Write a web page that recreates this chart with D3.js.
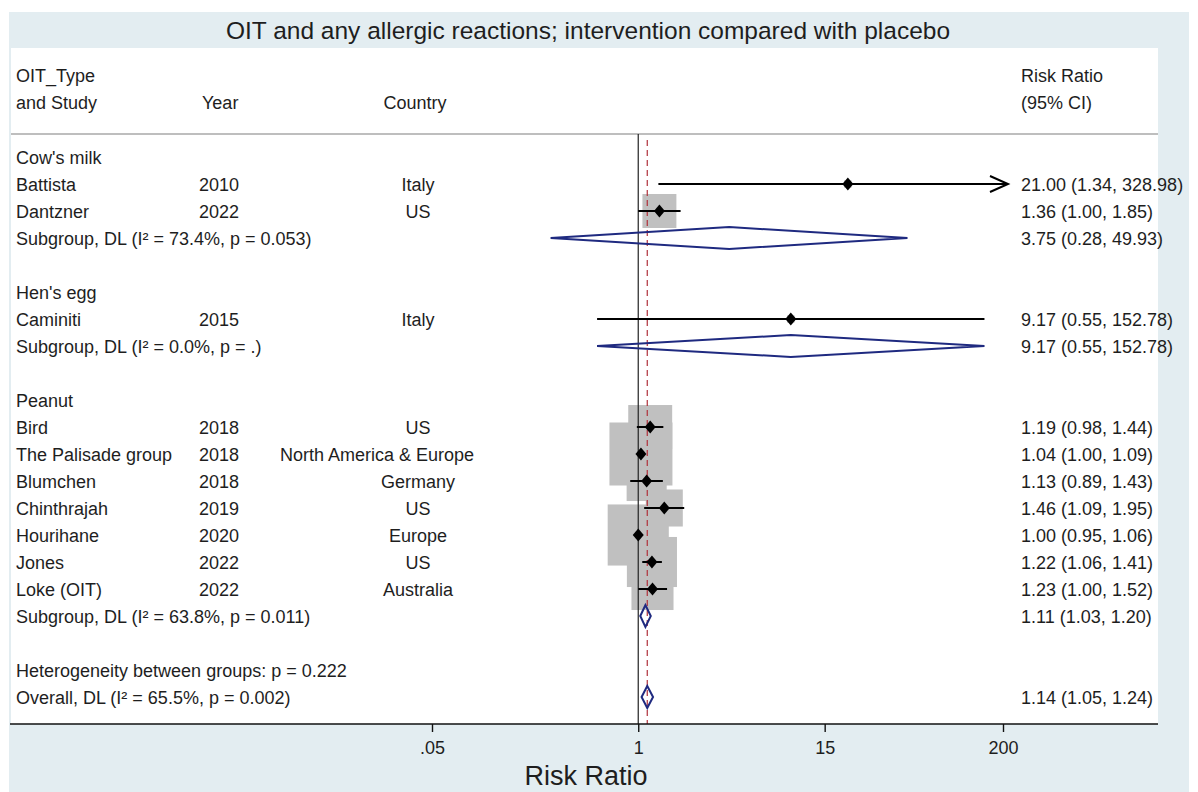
<!DOCTYPE html>
<html>
<head>
<meta charset="utf-8">
<script src="https://cdn.jsdelivr.net/npm/d3@7"></script>
<style>
  html, body { margin: 0; padding: 0; background: #ffffff; }
  svg { display: block; font-family: "Liberation Sans", Arial, Helvetica, sans-serif; }
</style>
</head>
<body>
<svg id="chart" width="1198" height="792"></svg>
<script>
// ---- data -------------------------------------------------------------
const title = "OIT and any allergic reactions; intervention compared with placebo";

const groups = ["Cow's milk", "Hen's egg", "Peanut"];

const studies   = ["Battista", "Dantzner", "Caminiti", "Bird", "The Palisade group",
                   "Blumchen", "Chinthrajah", "Hourihane", "Jones", "Loke (OIT)"];
const studyGroup = [0, 0, 1, 2, 2, 2, 2, 2, 2, 2];
const years     = [2010, 2022, 2015, 2018, 2018, 2018, 2019, 2020, 2022, 2022];
const countries = ["Italy", "US", "Italy", "US", "North America & Europe",
                   "Germany", "US", "Europe", "US", "Australia"];
const rr        = [21.00, 1.36, 9.17, 1.19, 1.04, 1.13, 1.46, 1.00, 1.22, 1.23];
const rrLow     = [1.34, 1.00, 0.55, 0.98, 1.00, 0.89, 1.09, 0.95, 1.06, 1.00];
const rrHigh    = [328.98, 1.85, 152.78, 1.44, 1.09, 1.43, 1.95, 1.06, 1.41, 1.52];
const weights   = [0.3, 6.4, 0.3, 10.7, 22.0, 8.9, 7.6, 20.7, 13.9, 9.8];   // % weight

const subRR    = [3.75, 9.17, 1.11];
const subLow   = [0.28, 0.55, 1.03];
const subHigh  = [49.93, 152.78, 1.20];
const subI2    = ["73.4", "0.0", "63.8"];
const subP     = ["0.053", ".", "0.011"];

const hetP = "0.222";
const overallRR = 1.14, overallLow = 1.05, overallHigh = 1.24;
const overallI2 = "65.5", overallP = "0.002";

const tickValues = [0.05, 1, 15, 200];
const tickLabels = [".05", "1", "15", "200"];

// ---- layout -----------------------------------------------------------
const W = 1198, H = 792;
const bg = "#e3edf1";
const navy = "#1f2a80";
const ink = "#1e1e1e";
const fs = 18;

const colStudy = 16, colYear = 199, colCountry = 418, colCountryStart = 280, colEffect = 1021;
const panel = { x0: 11, x1: 1158, y0: 48, y1: 724 };
const headerLine = 134;

// rows: group header, studies, subgroup, blank ... heterogeneity, overall
const rows = [];
groups.forEach((g, gi) => {
  rows.push({ type: "group", label: g });
  studies.forEach((s, i) => { if (studyGroup[i] === gi) rows.push({ type: "study", i }); });
  rows.push({ type: "sub", gi });
  rows.push({ type: "blank" });
});
rows.push({ type: "het" });
rows.push({ type: "overall" });

const y = d3.scalePoint().domain(d3.range(rows.length)).range([157, 697]);
const x = d3.scaleLog().domain([0.05, 200]).range([432, 1003]);
const box = d3.scaleSqrt().domain([0, 22]).range([0, 63]);
const f2 = d3.format(".2f");

const svg = d3.select("#chart");

// background frame
svg.append("rect").attr("x", 9).attr("y", 12).attr("width", 1180).attr("height", H - 12).attr("fill", bg);
svg.append("rect").attr("x", panel.x0).attr("y", panel.y0)
   .attr("width", panel.x1 - panel.x0).attr("height", panel.y1 - panel.y0).attr("fill", "#ffffff");

svg.append("text").attr("x", 588).attr("y", 39).attr("text-anchor", "middle")
   .attr("font-size", 24.5).attr("fill", ink).text(title);

// column headers
const hdr = svg.append("g").attr("font-size", fs).attr("fill", ink);
hdr.append("text").attr("x", colStudy).attr("y", 82).text("OIT_Type");
hdr.append("text").attr("x", colStudy).attr("y", 109).text("and Study");
hdr.append("text").attr("x", colYear + 3).attr("y", 109).text("Year");
hdr.append("text").attr("x", colCountry - 3).attr("y", 109).attr("text-anchor", "middle").text("Country");
hdr.append("text").attr("x", colEffect).attr("y", 82).text("Risk Ratio");
hdr.append("text").attr("x", colEffect).attr("y", 109).text("(95% CI)");

svg.append("line").attr("x1", panel.x0).attr("x2", panel.x1)
   .attr("y1", headerLine).attr("y2", headerLine)
   .attr("stroke", "#a9a9a9").attr("stroke-width", 1.5);

const marks = svg.append("g");
const txt = svg.append("g").attr("font-size", fs).attr("fill", ink);

const studyRows = rows.map((r, k) => ({ ...r, k })).filter(r => r.type === "study");

// weight boxes
marks.append("g").selectAll("rect").data(studyRows).join("rect")
  .attr("x", d => x(rr[d.i]) - box(weights[d.i]) / 2)
  .attr("y", d => y(d.k) - box(weights[d.i]) / 2)
  .attr("width", d => box(weights[d.i]))
  .attr("height", d => box(weights[d.i]))
  .attr("fill", "#c0c0c0");

// null line and overall-estimate line
marks.append("line").attr("x1", x(1)).attr("x2", x(1))
  .attr("y1", headerLine).attr("y2", panel.y1)
  .attr("stroke", "#222").attr("stroke-width", 1.2);
marks.append("line").attr("x1", x(overallRR)).attr("x2", x(overallRR))
  .attr("y1", headerLine + 6).attr("y2", panel.y1)
  .attr("stroke", "#b0303a").attr("stroke-width", 1.2).attr("stroke-dasharray", "6,4");

// confidence intervals (clipped at the axis range, arrow when clipped)
const [dMin, dMax] = x.domain();
studyRows.forEach(d => {
  const yy = y(d.k);
  const lo = Math.max(rrLow[d.i], dMin), hi = Math.min(rrHigh[d.i], dMax);
  const tipX = x(hi) + (rrHigh[d.i] > dMax ? 5 : 0);
  marks.append("line").attr("x1", x(lo)).attr("x2", tipX).attr("y1", yy).attr("y2", yy)
    .attr("stroke", "#000").attr("stroke-width", 2);
  if (rrHigh[d.i] > dMax) {
    marks.append("path")
      .attr("d", `M${tipX - 18},${yy - 8} L${tipX},${yy} L${tipX - 18},${yy + 8}`)
      .attr("fill", "none").attr("stroke", "#000").attr("stroke-width", 2);
  }
  marks.append("path").attr("transform", `translate(${x(rr[d.i])},${yy})`)
    .attr("d", "M0,-6.5 L5.5,0 L0,6.5 L-5.5,0 Z").attr("fill", "#000");
});

// pooled diamonds
function diamond(est, lo, hi, yy) {
  marks.append("path")
    .attr("d", `M${x(lo)},${yy} L${x(est)},${yy - 11} L${x(hi)},${yy} L${x(est)},${yy + 11} Z`)
    .attr("fill", "none").attr("stroke", navy).attr("stroke-width", 2);
}

// row text
rows.forEach((r, k) => {
  const yy = y(k) + 6.5;
  if (r.type === "group") {
    txt.append("text").attr("x", colStudy).attr("y", yy).text(r.label);
  } else if (r.type === "study") {
    const i = r.i;
    txt.append("text").attr("x", colStudy).attr("y", yy).text(studies[i]);
    txt.append("text").attr("x", colYear).attr("y", yy).text(years[i]);
    const c = txt.append("text").attr("x", colCountry).attr("y", yy)
      .attr("text-anchor", "middle").text(countries[i]);
    if (c.node().getComputedTextLength() > 150) c.attr("x", colCountryStart).attr("text-anchor", "start");
    txt.append("text").attr("x", colEffect).attr("y", yy)
      .text(`${f2(rr[i])} (${f2(rrLow[i])}, ${f2(rrHigh[i])})`);
  } else if (r.type === "sub") {
    const g = r.gi;
    txt.append("text").attr("x", colStudy).attr("y", yy)
      .text(`Subgroup, DL (I\u00B2 = ${subI2[g]}%, p = ${subP[g]})`);
    txt.append("text").attr("x", colEffect).attr("y", yy)
      .text(`${f2(subRR[g])} (${f2(subLow[g])}, ${f2(subHigh[g])})`);
    diamond(subRR[g], subLow[g], subHigh[g], y(k));
  } else if (r.type === "het") {
    txt.append("text").attr("x", colStudy).attr("y", yy)
      .text(`Heterogeneity between groups: p = ${hetP}`);
  } else if (r.type === "overall") {
    txt.append("text").attr("x", colStudy).attr("y", yy)
      .text(`Overall, DL (I\u00B2 = ${overallI2}%, p = ${overallP})`);
    txt.append("text").attr("x", colEffect).attr("y", yy)
      .text(`${f2(overallRR)} (${f2(overallLow)}, ${f2(overallHigh)})`);
    diamond(overallRR, overallLow, overallHigh, y(k));
  }
});

// x axis
svg.append("line").attr("x1", 10).attr("x2", panel.x1)
  .attr("y1", panel.y1).attr("y2", panel.y1)
  .attr("stroke", "#111").attr("stroke-width", 1.6);

const axis = d3.axisBottom(x)
  .tickValues(tickValues)
  .tickFormat((d, i) => tickLabels[i])
  .tickSize(8).tickSizeOuter(0).tickPadding(9);

const ax = svg.append("g").attr("transform", `translate(0,${panel.y1})`).call(axis);
ax.select(".domain").remove();
ax.selectAll(".tick line").attr("stroke", "#111").attr("stroke-width", 1.4);
ax.selectAll(".tick text").attr("font-size", fs).attr("fill", ink)
  .attr("font-family", "\"Liberation Sans\", Arial, Helvetica, sans-serif");

svg.append("text").attr("x", 586).attr("y", 785).attr("text-anchor", "middle")
  .attr("font-size", 27).attr("fill", ink).text("Risk Ratio");
</script>
</body>
</html>
